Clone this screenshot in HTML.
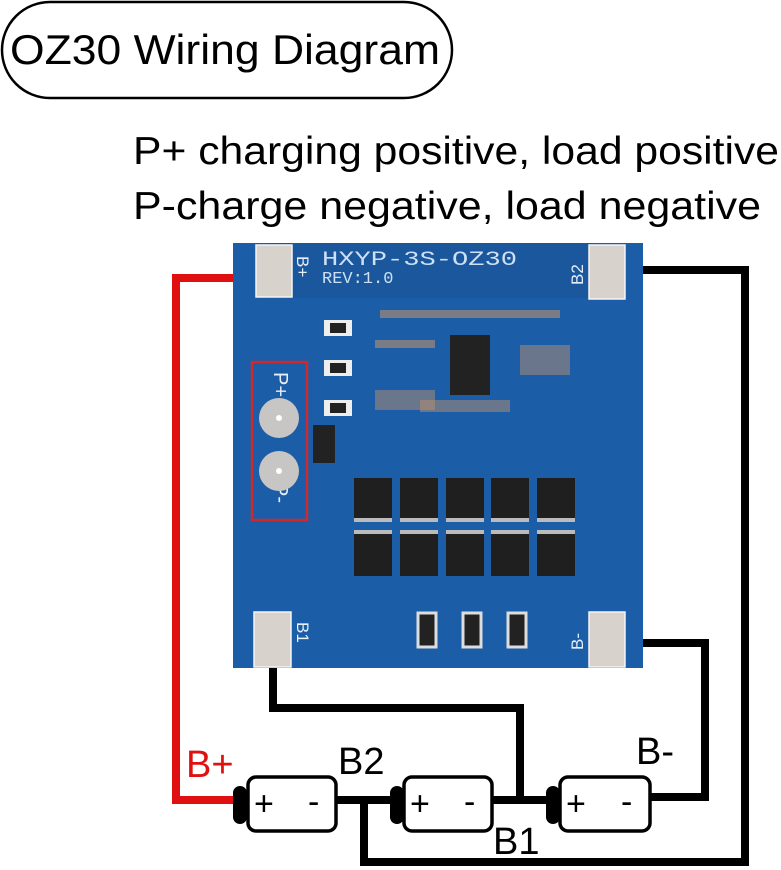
<!DOCTYPE html>
<html><head><meta charset="utf-8"><style>html,body{margin:0;padding:0;background:#fff}svg{display:block}</style></head>
<body>
<svg width="781" height="870" viewBox="0 0 781 870" xmlns="http://www.w3.org/2000/svg" font-family="Liberation Sans, sans-serif">
<rect x="2" y="2" width="450" height="96" rx="48" fill="none" stroke="#000" stroke-width="2.5"/>
<text x="10" y="64" font-size="42" textLength="430" lengthAdjust="spacingAndGlyphs">OZ30 Wiring Diagram</text>
<text x="133" y="164" font-size="39" textLength="646" lengthAdjust="spacingAndGlyphs">P+ charging positive, load positive</text>
<text x="133" y="219" font-size="39" textLength="628" lengthAdjust="spacingAndGlyphs">P-charge negative, load negative</text>

<g fill="none" stroke-width="8" stroke-linejoin="miter">
<polyline points="260,278 176,278 176,800 236,800" stroke="#e01010"/>
<polyline points="612,270 745,270 745,862 364,862 364,800" stroke="#000"/>
<polyline points="273,660 273,708 520,708 520,800" stroke="#000"/>
<polyline points="612,643 705,643 705,797 650,797" stroke="#000"/>
<line x1="335" y1="800" x2="400" y2="800" stroke="#000"/>
<line x1="492" y1="800" x2="556" y2="800" stroke="#000"/>
</g>

<rect x="233" y="243" width="410" height="425" fill="#1b5da6"/>
<rect x="270" y="243" width="320" height="55" fill="#1a579c"/>
<text x="322" y="265" font-size="20" fill="#cfe0f5" font-family="Liberation Mono, monospace" textLength="195" lengthAdjust="spacingAndGlyphs">HXYP-3S-OZ30</text>
<text x="322" y="283" font-size="17" fill="#cfe0f5" font-family="Liberation Mono, monospace">REV:1.0</text>
<g fill="#d8d2cc" stroke="#f4f4f4" stroke-width="1.5">
<rect x="256" y="245" width="36" height="52"/>
<rect x="589" y="245" width="36" height="54"/>
<rect x="254" y="612" width="37" height="55"/>
<rect x="589" y="612" width="36" height="55"/>
</g>
<g fill="#e6eef8" font-size="17">
<text transform="translate(297,256) rotate(90)">B+</text>
<text transform="translate(583,285) rotate(-90)">B2</text>
<text transform="translate(297,622) rotate(90)">B1</text>
<text transform="translate(583,650) rotate(-90)">B-</text>
<text transform="translate(274,372) rotate(90)" font-size="20">P+</text>
<text transform="translate(274,483) rotate(90)" font-size="20">P-</text>
</g>
<rect x="252" y="362" width="55" height="158" fill="none" stroke="#d0282c" stroke-width="2.5"/>
<circle cx="279" cy="418" r="20" fill="#c8c6c4"/><circle cx="279" cy="418" r="3" fill="#fff"/>
<circle cx="279" cy="471" r="20" fill="#c8c6c4"/><circle cx="279" cy="471" r="3" fill="#fff"/>
<rect x="313" y="425" width="22" height="38" fill="#222"/>
<rect x="450" y="335" width="40" height="60" fill="#222"/>
<rect x="324" y="320" width="28" height="16" fill="#eee"/><rect x="330" y="323" width="16" height="10" fill="#222"/>
<rect x="324" y="360" width="28" height="16" fill="#eee"/><rect x="330" y="363" width="16" height="10" fill="#222"/>
<rect x="324" y="400" width="28" height="16" fill="#eee"/><rect x="330" y="403" width="16" height="10" fill="#222"/>
<g fill="#b99070">
<rect x="380" y="310" width="180" height="8" opacity="0.6"/>
<rect x="375" y="340" width="60" height="8" opacity="0.6"/>
<rect x="520" y="345" width="50" height="30" opacity="0.5"/>
<rect x="375" y="390" width="60" height="20" opacity="0.5"/>
<rect x="420" y="400" width="90" height="12" opacity="0.5"/>
</g>
<g fill="#1f1f1f">
<rect x="354" y="478" width="38" height="40"/><rect x="400" y="478" width="38" height="40"/><rect x="446" y="478" width="38" height="40"/><rect x="491" y="478" width="38" height="40"/><rect x="537" y="478" width="38" height="40"/>
<rect x="354" y="534" width="38" height="42"/><rect x="400" y="534" width="38" height="42"/><rect x="446" y="534" width="38" height="42"/><rect x="491" y="534" width="38" height="42"/><rect x="537" y="534" width="38" height="42"/>
</g>
<g fill="#bbb">
<rect x="354" y="518" width="38" height="4"/><rect x="400" y="518" width="38" height="4"/><rect x="446" y="518" width="38" height="4"/><rect x="491" y="518" width="38" height="4"/><rect x="537" y="518" width="38" height="4"/>
<rect x="354" y="530" width="38" height="4"/><rect x="400" y="530" width="38" height="4"/><rect x="446" y="530" width="38" height="4"/><rect x="491" y="530" width="38" height="4"/><rect x="537" y="530" width="38" height="4"/>
</g>
<g fill="#222" stroke="#ddd" stroke-width="3">
<rect x="418" y="613" width="18" height="34"/><rect x="463" y="613" width="18" height="34"/><rect x="508" y="613" width="18" height="34"/>
</g>

<g fill="#fff" stroke="#000" stroke-width="3.5">
<rect x="248" y="777" width="88" height="54" rx="8"/>
<rect x="404" y="777" width="88" height="54" rx="8"/>
<rect x="560" y="777" width="90" height="54" rx="8"/>
</g>
<g fill="#000">
<rect x="233" y="786" width="14" height="38" rx="7"/>
<rect x="390" y="786" width="14" height="38" rx="7"/>
<rect x="546" y="786" width="14" height="38" rx="7"/>
</g>
<g font-size="34">
<text x="254" y="815">+</text><text x="308" y="813">-</text>
<text x="410" y="815">+</text><text x="464" y="813">-</text>
<text x="566" y="815">+</text><text x="621" y="813">-</text>
</g>
<text x="186" y="777" font-size="38" fill="#e01010">B+</text>
<text x="338" y="774" font-size="38">B2</text>
<text x="493" y="854" font-size="38">B1</text>
<text x="636" y="764" font-size="38">B-</text>
</svg>
</body></html>
